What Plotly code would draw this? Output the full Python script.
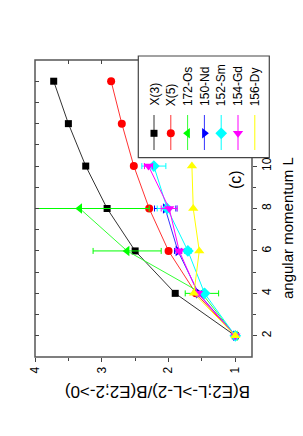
import plotly.graph_objects as go

# ---------------- data ----------------
L_all = [2, 4, 6, 8, 10, 12, 14]
x3_vals = [1.00, 1.90, 2.50, 2.92, 3.24, 3.50, 3.72]
x5_vals = [1.00, 1.59, 2.00, 2.29, 2.52, 2.70, 2.86]

L_os = [2, 4, 6, 8]
os172_vals = [1.00, 1.50, 2.62, 3.33]
os172_err = [0.0, 0.25, 0.51, 1.04]

L_nd = [2, 4, 6, 8]
nd150_vals = [1.00, 1.55, 1.86, 2.05]
nd150_err = [0.0, 0.04, 0.05, 0.16]

L_sm = [2, 4, 6, 8, 10]
sm152_vals = [1.00, 1.46, 1.71, 2.02, 2.22]
sm152_err = [0.0, 0.03, 0.05, 0.15, 0.18]

L_gd = [2, 4, 6, 8, 10]
gd154_vals = [1.00, 1.56, 1.84, 1.99, 2.30]
gd154_err = [0.0, 0.03, 0.04, 0.12, 0.06]

L_dy = [2, 4, 6, 8, 10]
dy156_vals = [1.00, 1.62, 1.54, 1.63, 1.65]

series_names = ["X(3)", "X(5)", "172-Os", "150-Nd", "152-Sm", "154-Gd", "156-Dy"]
x_ticks = [1, 2, 3, 4]
L_ticks = [2, 4, 6, 8, 10]

series = [
    dict(name=series_names[0], L=L_all, v=x3_vals, e=None, c="#000000", lc="#333333", s="square", z=7),
    dict(name=series_names[1], L=L_all, v=x5_vals, e=None, c="#ff0000", lc="#ff3333", s="circle", z=8),
    dict(name=series_names[2], L=L_os, v=os172_vals, e=os172_err, c="#00ff00", lc="#33ff33", s="triangle-left", z=9),
    dict(name=series_names[3], L=L_nd, v=nd150_vals, e=nd150_err, c="#0000ff", lc="#3333ff", s="triangle-right", z=9),
    dict(name=series_names[4], L=L_sm, v=sm152_vals, e=sm152_err, c="#00ffff", lc="#00ffff", s="diamond", z=9),
    dict(name=series_names[5], L=L_gd, v=gd154_vals, e=gd154_err, c="#ff00ff", lc="#ff00ff", s="triangle-down", z=9),
    dict(name=series_names[6], L=L_dy, v=dy156_vals, e=None, c="#ffff00", lc="#ffff00", s="triangle-up", z=9),
]

FONT = "Liberation Sans, Arial, sans-serif"
W, H = 303, 436
ML, MR, MT, MB = 35, 51, 60, 79
PW, PH = W - ML - MR, H - MT - MB


def pxx(x):
    return (x - ML) / PW


def pxy(y):
    return (H - MB - y) / PH


fig = go.Figure()

for sr in series:
    kw = {}
    if sr["e"] is not None:
        kw["error_x"] = dict(type="data", array=sr["e"], color=sr["c"], thickness=1, width=3)
    fig.add_trace(go.Scatter(
        x=sr["v"], y=sr["L"], mode="lines+markers", name=sr["name"],
        line=dict(color=sr["lc"], width=1),
        marker=dict(symbol=sr["s"], size=sr["z"], color=sr["c"], line=dict(width=0)),
        showlegend=False, **kw))

# invisible trace for mirror axes
fig.add_trace(go.Scatter(x=[None], y=[None], xaxis="x2", yaxis="y2", showlegend=False, hoverinfo="skip"))

# ---- hand-drawn rotated legend ----
leg_x0, leg_x1 = pxx(138.3), pxx(269.3)
leg_y0, leg_y1 = pxy(157.7), pxy(56)
first_x, step_x = pxx(154), 16.8 / PW
mark_y = pxy(133.3)
line_ya, line_yb = pxy(150), pxy(115)
text_y = pxy(108)

shapes = [
    dict(type="rect", xref="paper", yref="paper", x0=0, x1=1, y0=0, y1=1,
         line=dict(color="#555555", width=1.5), layer="below"),
    dict(type="rect", xref="paper", yref="paper", x0=leg_x0, x1=leg_x1, y0=leg_y0, y1=leg_y1,
         line=dict(color="#444444", width=1.2), fillcolor="white", layer="below"),
]
annotations = []
for i, sr in enumerate(series):
    cx = first_x + i * step_x
    shapes.append(dict(type="line", xref="paper", yref="paper", x0=cx, x1=cx, y0=line_ya, y1=line_yb,
                       line=dict(color=sr["lc"], width=1), layer="below"))
    annotations.append(dict(text=sr["name"], xref="paper", yref="paper", x=cx, y=text_y,
                            xanchor="center", yanchor="bottom", textangle=-90, showarrow=False,
                            font=dict(family=FONT, size=12, color="black")))
    fig.add_trace(go.Scatter(
        x=[cx], y=[mark_y], xaxis="x3", yaxis="y3", mode="markers", cliponaxis=False,
        marker=dict(symbol=sr["s"], size=sr["z"], color=sr["c"], line=dict(width=0)),
        showlegend=False, hoverinfo="skip"))

annotations += [
    dict(text="B(E2;L->L-2)/B(E2;2->0)", xref="paper", yref="paper", x=pxx(158), y=pxy(391.5),
         xanchor="center", yanchor="middle", textangle=180, showarrow=False,
         font=dict(family=FONT, size=17, color="black")),
    dict(text="angular momentum L", xref="paper", yref="paper", x=pxx(287), y=pxy(228),
         xanchor="center", yanchor="middle", textangle=-90, showarrow=False,
         font=dict(family=FONT, size=15, color="black")),
    dict(text="(c)", xref="paper", yref="paper", x=pxx(235), y=pxy(180),
         xanchor="center", yanchor="middle", textangle=-90, showarrow=False,
         font=dict(family=FONT, size=16, color="black")),
]

axis_common = dict(showgrid=False, zeroline=False, showline=False, tickcolor="#444444",
                   tickfont=dict(family=FONT, size=12, color="black"))

fig.update_layout(
    width=W, height=H,
    margin=dict(l=ML, r=MR, t=MT, b=MB),
    paper_bgcolor="white", plot_bgcolor="white",
    showlegend=False,
    xaxis=dict(range=[4, 0.75], tickvals=x_ticks, ticks="outside", ticklen=4, tickangle=-90,
               minor=dict(tickvals=[1.5, 2.5, 3.5], ticks="outside", ticklen=3, tickcolor="#444444"),
               **axis_common),
    yaxis=dict(range=[1, 15], side="right", tickvals=L_ticks, ticks="outside", ticklen=4, tickangle=-90,
               minor=dict(tickvals=[3, 5, 7, 9], ticks="outside", ticklen=3, tickcolor="#444444"),
               **axis_common),
    xaxis2=dict(range=[4, 0.75], overlaying="x", side="top", anchor="y2", tickvals=[3, 3.5, 4],
                ticks="inside", ticklen=4, showticklabels=False, **axis_common),
    yaxis2=dict(range=[1, 15], overlaying="y", side="left", anchor="x2", tickvals=list(range(2, 15)),
                ticks="inside", ticklen=4, showticklabels=False, **axis_common),
    xaxis3=dict(range=[0, 1], overlaying="x", anchor="y3", visible=False),
    yaxis3=dict(range=[0, 1], overlaying="y", anchor="x3", visible=False),
    shapes=shapes,
    annotations=annotations,
)

fig.write_html("out.html", config={"displayModeBar": False},
               post_script="document.body.style.margin='0';document.body.style.overflow='hidden';")
